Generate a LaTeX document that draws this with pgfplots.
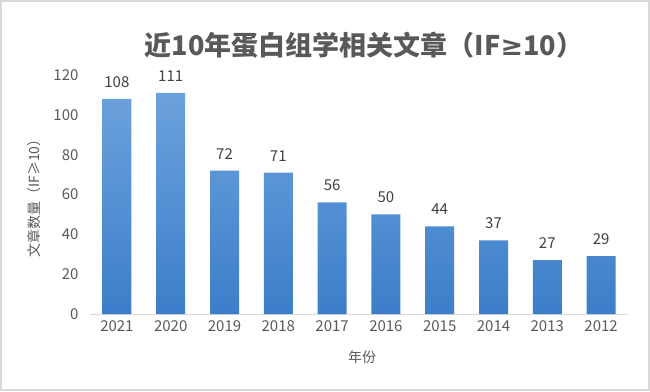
\documentclass[border=0pt]{standalone}
\usepackage{fontspec}
\setmainfont{Noto Sans CJK SC}
\newfontfamily\dv{DejaVu Sans}
\usepackage{pgfplots}
\pgfplotsset{compat=1.18}
\definecolor{txt}{RGB}{89,89,89}
\definecolor{lbl}{RGB}{64,64,64}
\definecolor{axln}{RGB}{217,217,217}
\definecolor{barTop}{RGB}{108,162,220}
\definecolor{barBot}{RGB}{60,126,202}
\begin{document}
\begin{tikzpicture}
\path[use as bounding box] (0pt,0pt) rectangle (650pt,-391pt);
\draw[color=axln, line width=2pt] (1pt,-1pt) rectangle (649pt,-390pt);
\begin{axis}[
  at={(90pt,-314pt)}, anchor=south west,
  scale only axis, width=538pt, height=239pt,
  xmin=-0.5, xmax=9.5, ymin=0, ymax=120,
  ybar, bar width=29pt,
  axis x line*=bottom, axis y line*=left,
  x axis line style={draw=axln, line width=1pt, -},
  y axis line style={draw=none},
  major tick length=0pt,
  xtick={0,...,9},
  xticklabels={2021,2020,2019,2018,2017,2016,2015,2014,2013,2012},
  ytick={0,20,...,120},
  tick label style={font=\fontsize{15}{15}\selectfont, color=txt},
  /pgf/number format/assume math mode=true,
  yticklabel style={xshift=-8pt},
  xticklabel style={yshift=-3pt},
  nodes near coords,
  nodes near coords style={font=\fontsize{15}{15}\selectfont, color=lbl, yshift=8pt},
  clip=false,
]
\addplot[draw=none, top color=barTop, bottom color=barBot] coordinates {
(0,108) (1,111) (2,72) (3,71) (4,56) (5,50) (6,44) (7,37) (8,27) (9,29)};
\end{axis}
\node[font=\fontsize{27}{27}\selectfont\bfseries, color=txt] at (364pt,-45pt) {近10年蛋白组学相关文章（IF{\dv\bfseries ≥}10）};
\node[font=\fontsize{14}{14}\selectfont, color=txt] at (362pt,-357pt) {年份};
\node[font=\fontsize{14}{14}\selectfont, color=txt, rotate=90] at (34pt,-195pt) {文章数量（IF≥10）};
\end{tikzpicture}
\end{document}
